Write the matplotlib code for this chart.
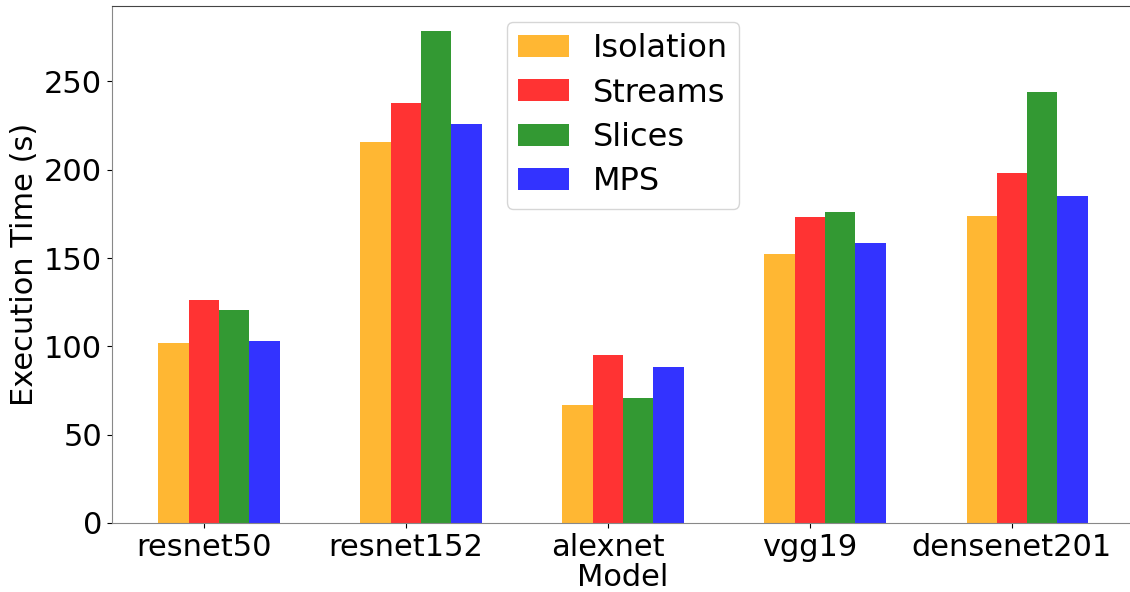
import numpy as np
import matplotlib
matplotlib.use("Agg")
import matplotlib.pyplot as plt

models = ["resnet50", "resnet152", "alexnet", "vgg19", "densenet201"]
isolation = [101.9, 215.7, 66.8, 152.4, 174.0]
streams = [126.4, 237.8, 95.1, 173.4, 197.9]
slices = [120.5, 278.7, 70.9, 176.2, 243.8]
mps = [103.3, 225.9, 88.4, 158.5, 185.1]

series = [("Isolation", isolation, "orange"),
          ("Streams", streams, "red"),
          ("Slices", slices, "green"),
          ("MPS", mps, "blue")]

fig = plt.figure(figsize=(11.3, 5.92), dpi=100)
ax = fig.add_axes([0.0991, 0.1166, 0.9046, 0.8733])

x = np.arange(len(models))
w = 0.15
for k, (name, vals, col) in enumerate(series):
    ax.bar(x + (k - 1) * w, vals, w, color=col, alpha=0.8, label=name)

ax.set_xticks(x)
ax.set_xticklabels(models)
ax.tick_params(labelsize=22)
ax.set_xlabel("Model", fontsize=22, labelpad=1)
ax.set_ylabel("Execution Time (s)", fontsize=22)
ax.set_xlim(-0.455, 4.605)
ax.set_ylim(0, 292.7)

ax.spines["top"].set_color("#444444")
ax.spines["right"].set_color("#444444")
ax.spines["left"].set_color("#888888")
ax.spines["bottom"].set_color("#888888")

ax.legend(loc="upper center", fontsize=23, handlelength=1.6, handleheight=0.68,
          labelspacing=0.42, handletextpad=0.75, borderpad=0.35)

fig.savefig("out.png", dpi=100)
